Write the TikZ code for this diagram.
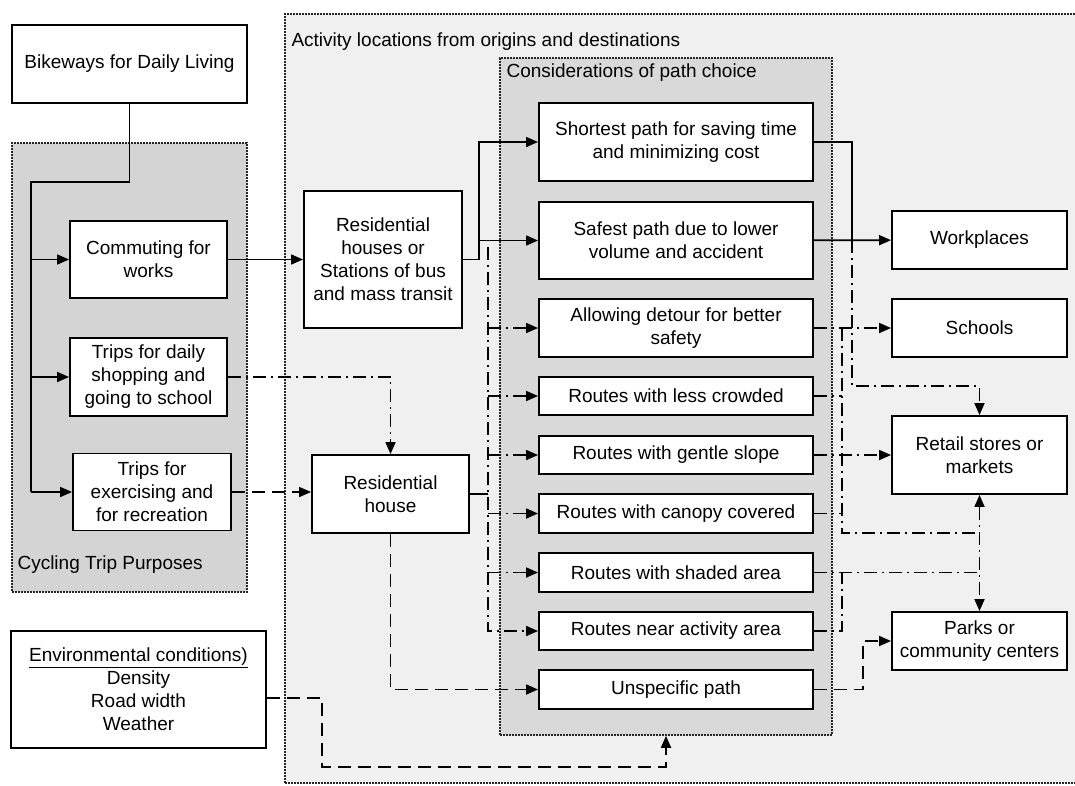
\documentclass[tikz,border=0pt]{standalone}
\usepackage{fontspec}
\setmainfont{Liberation Sans}
\usetikzlibrary{arrows.meta}
\definecolor{actgray}{gray}{0.94}
\definecolor{cycgray}{gray}{0.83}
\definecolor{considgray}{gray}{0.85}
\tikzset{>={Triangle[length=12pt,width=10pt]}}
\tikzset{
  box/.style={draw, line width=1.9pt, fill=white, align=center, inner sep=0pt},
  grp/.style={draw=black!85, line width=1.6pt, dash pattern=on 1.6pt off 1.4pt, inner sep=0pt},
  con/.style={line width=1.7pt},
  dashcon/.style={con, dash pattern=on 13pt off 7pt},
  dotdash/.style={con, dash pattern=on 13pt off 5pt on 2pt off 5pt},
}

\begin{document}
\begin{tikzpicture}[x=1pt, y=-1pt, font=\fontsize{19}{23}\selectfont]
\useasboundingbox (0,0) rectangle (1075,785);
\node[grp, fill=actgray, minimum width=810pt, minimum height=769pt] (act) at (690,398.5) {};
\node[grp, fill=cycgray, minimum width=235pt, minimum height=449pt] (cyc) at (129.5,367.5) {};
\node[grp, fill=considgray, minimum width=332pt, minimum height=677pt] (consid) at (666,396.5) {};
\node[anchor=base west] (actlbl) at (288,46) {Activity locations from origins and destinations};
\node[anchor=base west] (cyclbl) at (14,569) {Cycling Trip Purposes};
\node[anchor=base west] (considlbl) at (503,77) {Considerations of path choice};

\node[box, minimum width=235pt, minimum height=78pt] (bike) at (129.5,64) {Bikeways for Daily Living};
\node[box, minimum width=157pt, minimum height=77pt] (commute) at (148.5,259.5) {Commuting for\\works};
\node[box, minimum width=157pt, minimum height=78pt] (shop) at (148.5,377) {Trips for daily\\shopping and\\going to school};
\node[box, minimum width=158pt, minimum height=77pt] (exer) at (152,492) {Trips for\\exercising and\\for recreation};
\node[box, minimum width=255pt, minimum height=117pt] (env) at (138.5,689.5) {\underline{Environmental conditions)}\\Density\\Road width\\Weather};

\node[box, minimum width=158pt, minimum height=137pt] (resst) at (383,259.5) {Residential\\houses or\\Stations of bus\\and mass transit};
\node[box, minimum width=157pt, minimum height=78pt] (reshouse) at (390.5,494) {Residential\\house};

\node[box, minimum width=274pt, minimum height=78pt] (short) at (676,142) {Shortest path for saving time\\and minimizing cost};
\node[box, minimum width=274pt, minimum height=77pt] (safe) at (676,240.5) {Safest path due to lower\\volume and accident};
\node[box, minimum width=274pt, minimum height=58pt] (detour) at (676,328) {Allowing detour for better\\safety};
\node[box, minimum width=274pt, minimum height=38pt] (crowd) at (676,396) {Routes with less crowded};
\node[box, minimum width=274pt, minimum height=38pt] (slope) at (676,455) {Routes with gentle slope};
\node[box, minimum width=274pt, minimum height=39pt] (canopy) at (676,513.5) {Routes with canopy covered};
\node[box, minimum width=274pt, minimum height=39pt] (shade) at (676,572.5) {Routes with shaded area};
\node[box, minimum width=274pt, minimum height=38pt] (near) at (676,631) {Routes near activity area};
\node[box, minimum width=274pt, minimum height=39pt] (unspec) at (676,689.5) {Unspecific path};

\node[box, minimum width=175pt, minimum height=58pt] (work) at (979.5,240) {Workplaces};
\node[box, minimum width=175pt, minimum height=58pt] (school) at (979.5,328) {Schools};
\node[box, minimum width=175pt, minimum height=78pt] (retail) at (979.5,455) {Retail stores or\\markets};
\node[box, minimum width=175pt, minimum height=58pt] (parks) at (979.5,641) {Parks or\\community centers};

\coordinate (trunk) at (31,182);
\coordinate (fork) at (479,259.5);
\coordinate (busT) at (488,247);
\coordinate (envturn) at (322,767);
\coordinate (jR) at (852,240);
\coordinate (jR2) at (852,386);
\coordinate (bR) at (842,328);
\coordinate (bR2) at (842,533);
\coordinate (bS) at (842,572.5);
\coordinate (uP) at (863,641);

\draw[con] (bike.south) |- (trunk) -- (trunk |- exer);
\foreach \n in {commute,shop,exer}
  \draw[con,->] (trunk |- \n) -- (\n);
\draw[con,->] (commute) -- (resst);
\draw[dotdash,->] (shop) -| (reshouse.north);
\draw[dashcon,->] (exer.east) -- (exer.east -| reshouse.west);
\draw[con] (resst) -- (fork);
\draw[con,->] (fork) |- (short);
\draw[con,->] (fork) |- (safe);
\draw[con] (reshouse) -- (reshouse -| busT);
\draw[dotdash,->] (busT) |- (near);
\foreach \n in {detour,crowd,slope,canopy,shade}
  \draw[dotdash,->] (busT |- \n) -- (\n);
\draw[dashcon,->] (reshouse.south) |- (unspec);
\draw[dashcon,->] ([yshift=-8.5pt]env.east) -| (envturn) -| (consid.south);

\draw[con] (short) -| (jR);
\draw[con,->] (safe) -- (work);
\draw[dotdash,->] (jR) -- (jR2) -| (retail.north);
\draw[dotdash,->] (detour) -- (school);
\draw[dotdash] (bR) -- (bR2) -- (bR2 -| retail.south);
\draw[dotdash] (crowd) -- (crowd -| bR);
\draw[dotdash] (canopy) -- (canopy -| bR);
\draw[dotdash,->] (slope) -- (retail);
\draw[dotdash] (shade) -- (bS) -- (bS -| retail.south);
\draw[dotdash] (near) -| (bS);
\draw[dotdash,<->] (retail.south) -- (parks.north);
\draw[dashcon,->] (unspec) -| (uP) -- (parks);
\end{tikzpicture}
\end{document}
